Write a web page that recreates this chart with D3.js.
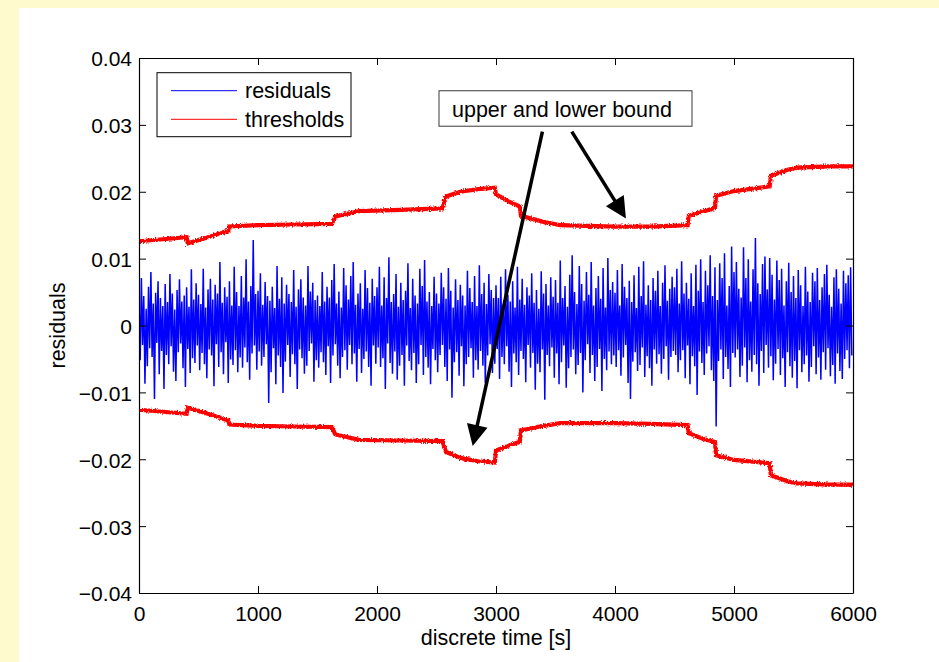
<!DOCTYPE html>
<html>
<head>
<meta charset="utf-8">
<script src="https://cdn.jsdelivr.net/npm/d3@7"></script>
<style>
  body { margin: 0; background: #fffacd; }
  svg { display: block; font-family: "Liberation Sans", Arial, Helvetica, sans-serif; }
</style>
</head>
<body>
<script>
// residual samples, in units of 1e-4, one sample every 10 s
var residuals = [
  38,-52,71,-29,44,-87,25,-61,58,-34,80,-47,33,-110,49,-26,66,-73,41,-38,29,-95,62,-44,35,-58,77,-31,48,-69,24,-83,53,-40,69,-27,36,-64,45,-92,57,-35,28,-71,84,-49,39,-56,63,-30,
  46,-67,32,-41,85,-58,27,-79,54,-36,70,-45,39,-91,61,-28,48,-62,95,-40,34,-73,57,-25,43,-86,66,-51,30,-59,88,-37,50,-70,29,-48,74,-63,42,-33,99,-55,36,-81,59,-42,128,-30,47,-66,
  52,-39,78,-60,31,-47,65,-28,44,-116,37,-70,58,-34,26,-88,89,-45,40,-62,72,-101,33,-54,61,-29,47,-77,35,-43,83,-58,28,-95,54,-36,69,-49,42,-72,30,-60,89,-38,51,-27,64,-84,38,-52,
  45,-63,29,-40,80,-55,36,-74,58,-31,42,-86,68,-45,92,-28,33,-60,51,-79,27,-47,86,-37,60,-66,39,-29,74,-58,95,-42,31,-84,48,-35,63,-71,25,-50,83,-39,56,-62,34,-90,70,-30,44,-57,
  57,-33,88,-62,30,-49,72,-95,41,-27,102,-56,35,-72,47,-39,77,-81,28,-60,64,-44,38,-90,52,-30,93,-53,26,-67,70,-41,45,-86,33,-58,85,-29,59,-74,98,-47,36,-63,50,-88,29,-35,73,-52,
  48,-70,33,-44,79,-29,57,-62,40,-83,86,-36,52,-108,27,-55,69,-40,38,-75,61,-31,45,-91,30,-58,82,-47,56,-34,35,-78,74,-52,29,-66,90,-38,47,-60,64,-86,32,-45,77,-28,53,-71,41,-57,
  60,-35,41,-80,73,-47,29,-58,84,-31,46,-69,36,-92,66,-42,27,-55,88,-74,39,-38,70,-50,31,-85,57,-29,45,-63,78,-41,34,-96,53,-57,25,-70,81,-36,48,-111,62,-44,30,-61,72,-33,43,-78,
  68,-42,34,-88,97,-55,41,-30,59,-93,28,-64,76,-47,105,-36,50,-73,32,-59,89,-41,62,-100,37,-52,80,-28,46,-71,95,-44,30,-83,56,-62,74,-35,40,-98,86,-50,27,-67,101,-39,53,-58,65,-45,
  49,-62,83,-37,30,-75,92,-48,58,-29,41,-86,67,-110,35,-54,75,-40,26,-68,88,-59,44,-33,96,-77,31,-46,60,-64,38,-90,71,-36,52,-57,82,-43,29,-72,64,-50,90,-31,37,-81,55,-47,73,-38,
  57,-44,85,-70,33,-52,96,-37,48,-79,64,-30,40,-88,78,-46,29,-61,91,-104,52,-39,99,-56,35,-74,82,-42,60,-31,105,-67,44,-83,87,-151,38,-53,93,-36,71,-80,108,-47,30,-65,59,-92,118,-41,
  80,-48,95,-36,55,-77,42,-60,117,-33,71,-85,99,-52,36,-69,84,-44,131,-58,63,-90,47,-38,92,-71,103,-29,54,-63,101,-46,76,-82,39,-57,97,-35,68,-74,85,-49,30,-92,66,-40,94,-61,50,-78,
  74,-53,41,-94,83,-37,60,-70,29,-58,88,-45,51,-84,35,-62,79,-31,66,-73,86,-48,38,-81,57,-40,77,-66,91,-34,46,-76,28,-59,72,-87,84,-42,55,-68,33,-80,82,-50,63,-37,75,-64,87,-45
];
var sampleStep = 10;

// threshold breakpoints: time [s] and bound value in units of 1e-3
var thresholdTimes = [0, 200, 400, 410, 600, 750, 760, 1000, 1300, 1620, 1650, 1850, 2200, 2550, 2580, 2700, 2850, 2990, 3000, 3100, 3200, 3210, 3400, 3540, 4000, 4300, 4610, 4620, 4750, 4840, 4850, 5000, 5300, 5310, 5450, 5530, 5800, 6000];
var upperBound = [12.6, 12.9, 13.2, 12.3, 13.3, 14.2, 14.8, 15.0, 15.1, 15.2, 16.3, 17.1, 17.3, 17.5, 19.3, 20.0, 20.4, 20.6, 19.6, 18.6, 17.8, 16.4, 15.5, 15.0, 14.8, 14.8, 15.0, 16.4, 17.1, 17.6, 19.4, 20.1, 20.8, 22.4, 23.3, 23.6, 23.8, 23.8];
var lowerBound = [-12.6, -12.9, -13.2, -12.3, -13.3, -14.2, -14.8, -15.0, -15.1, -15.2, -16.3, -17.1, -17.2, -17.3, -18.9, -19.8, -20.3, -20.5, -18.7, -18.0, -17.4, -15.7, -15.0, -14.6, -14.6, -14.7, -14.9, -16.1, -17.0, -17.4, -19.4, -20.1, -20.6, -22.4, -23.3, -23.6, -23.8, -23.8];

// tick values
var xTicks = [0, 1000, 2000, 3000, 4000, 5000, 6000];
var yTicks = [-0.04, -0.03, -0.02, -0.01, 0, 0.01, 0.02, 0.03, 0.04];

var legendLabels = ["residuals", "thresholds"];
var legendColors = ["#0000ff", "#ff0000"];

var svgWidth = 939;
var svgHeight = 662;

var margin = {
  top: 58,
  right: 86,
  bottom: 69,
  left: 139
};

var width = svgWidth - margin.left - margin.right;
var height = svgHeight - margin.top - margin.bottom;

var svg = d3.select("body")
  .append("svg")
  .attr("width", svgWidth)
  .attr("height", svgHeight);

// jagged edge for the noisy threshold traces
var defs = svg.append("defs");
var rough = defs.append("filter")
  .attr("id", "rough")
  .attr("x", "-2%").attr("y", "-20%")
  .attr("width", "104%").attr("height", "140%");
rough.append("feTurbulence")
  .attr("type", "fractalNoise")
  .attr("baseFrequency", "0.9 0.6")
  .attr("numOctaves", 2)
  .attr("seed", 3)
  .attr("result", "noise");
rough.append("feDisplacementMap")
  .attr("in", "SourceGraphic")
  .attr("in2", "noise")
  .attr("scale", 3.5)
  .attr("xChannelSelector", "R")
  .attr("yChannelSelector", "G");

// figure background: yellow page with white figure area
svg.append("rect")
  .attr("width", svgWidth)
  .attr("height", svgHeight)
  .attr("fill", "#fffacd");

svg.append("rect")
  .attr("x", 19)
  .attr("y", 8)
  .attr("width", svgWidth - 19)
  .attr("height", svgHeight - 8)
  .attr("fill", "#ffffff");

var chartGroup = svg.append("g")
  .attr("transform", `translate(${margin.left}, ${margin.top})`);

// scales
var xLinearScale = d3.scaleLinear()
  .domain([0, 6000])
  .range([0, width]);

var yLinearScale = d3.scaleLinear()
  .domain([-0.04, 0.04])
  .range([height, 0]);

chartGroup.append("clipPath")
  .attr("id", "plotClip")
  .append("rect")
  .attr("width", width)
  .attr("height", height);

var plotArea = chartGroup.append("g")
  .attr("clip-path", "url(#plotClip)");

// residuals line
var residualLine = d3.line()
  .x((d, i) => xLinearScale(i * sampleStep))
  .y(d => yLinearScale(d * 1e-4));

plotArea.append("path")
  .datum(residuals)
  .attr("d", residualLine)
  .attr("fill", "none")
  .attr("stroke", "#0000ff")
  .attr("stroke-width", 1.5)
  .attr("stroke-linejoin", "miter")
  .attr("stroke-miterlimit", 2);

// thresholds
var thresholdLine = d3.line()
  .x((d, i) => xLinearScale(thresholdTimes[i]))
  .y(d => yLinearScale(d * 1e-3));

[upperBound, lowerBound].forEach(function (bound) {
  plotArea.append("path")
    .datum(bound)
    .attr("d", thresholdLine)
    .attr("fill", "none")
    .attr("stroke", "#ff0000")
    .attr("stroke-width", 4.2)
    .attr("stroke-linejoin", "miter")
    .attr("filter", "url(#rough)");
});

// axes, MATLAB style: ticks inside on all four sides
function fmtY(d) {
  if (Math.abs(d) < 1e-9) return "0";
  return (d < 0 ? "\u2212" : "") + Math.abs(d).toFixed(2);
}

var bottomAxis = d3.axisBottom(xLinearScale)
  .tickValues(xTicks)
  .tickSizeInner(-7)
  .tickSizeOuter(0)
  .tickPadding(13)
  .tickFormat(d3.format("d"));

var leftAxis = d3.axisLeft(yLinearScale)
  .tickValues(yTicks)
  .tickSizeInner(-7)
  .tickSizeOuter(0)
  .tickPadding(7)
  .tickFormat(fmtY);

var topAxis = d3.axisTop(xLinearScale)
  .tickValues(xTicks)
  .tickSizeInner(-7)
  .tickSizeOuter(0)
  .tickFormat("");

var rightAxis = d3.axisRight(yLinearScale)
  .tickValues(yTicks)
  .tickSizeInner(-7)
  .tickSizeOuter(0)
  .tickFormat("");

var axisGroups = [
  chartGroup.append("g").attr("transform", `translate(0, ${height})`).call(bottomAxis),
  chartGroup.append("g").call(leftAxis),
  chartGroup.append("g").call(topAxis),
  chartGroup.append("g").attr("transform", `translate(${width}, 0)`).call(rightAxis)
];

axisGroups.forEach(function (g) {
  g.selectAll("path.domain").attr("stroke", "#000").attr("stroke-width", 1.2);
  g.selectAll(".tick line").attr("stroke", "#000").attr("stroke-width", 1);
  g.selectAll(".tick text")
    .attr("fill", "#000")
    .style("font-size", "21px")
    .style("font-family", "'Liberation Sans', Arial, Helvetica, sans-serif");
});

axisGroups[1].selectAll(".tick text").attr("dy", "0.38em");

// axis labels
chartGroup.append("text")
  .attr("x", width / 2)
  .attr("y", height + 52)
  .attr("text-anchor", "middle")
  .style("font-size", "21.5px")
  .text("discrete time [s]");

chartGroup.append("text")
  .attr("transform", "rotate(-90)")
  .attr("x", -height / 2)
  .attr("y", -74)
  .attr("text-anchor", "middle")
  .style("font-size", "21.5px")
  .text("residuals");

// legend
var legend = chartGroup.append("g")
  .attr("transform", "translate(18, 14.7)");

legend.append("rect")
  .attr("width", 194)
  .attr("height", 64)
  .attr("fill", "#fff")
  .attr("stroke", "#000")
  .attr("stroke-width", 1);

legendLabels.forEach(function (label, i) {
  legend.append("line")
    .attr("x1", 14)
    .attr("x2", 80)
    .attr("y1", 18 + i * 28.6)
    .attr("y2", 18 + i * 28.6)
    .attr("stroke", legendColors[i])
    .attr("stroke-width", 1);
  legend.append("text")
    .attr("x", 88)
    .attr("y", 25.6 + i * 28.6)
    .style("font-size", "21.5px")
    .text(label);
});

// annotation box and arrows (placed in data coordinates)
var noteBox = { x0: 2521, x1: 4647, y0: 0.0298, y1: 0.0351 };
var noteText = { x: 2630, y: 0.03122, label: "upper and lower bound" };
var arrows = [
  { from: [3390, 0.0290], to: [2804, -0.0180] },
  { from: [3637, 0.0290], to: [4092, 0.0160] }
];

chartGroup.append("rect")
  .attr("x", xLinearScale(noteBox.x0))
  .attr("y", yLinearScale(noteBox.y1))
  .attr("width", xLinearScale(noteBox.x1) - xLinearScale(noteBox.x0))
  .attr("height", yLinearScale(noteBox.y0) - yLinearScale(noteBox.y1))
  .attr("fill", "#fff")
  .attr("stroke", "#3a3a3a")
  .attr("stroke-width", 1);

chartGroup.append("text")
  .attr("x", xLinearScale(noteText.x))
  .attr("y", yLinearScale(noteText.y))
  .style("font-size", "21.5px")
  .text(noteText.label);

var headLength = 21;
var headHalf = 10.5;

arrows.forEach(function (a) {
  var x1 = xLinearScale(a.from[0]), y1 = yLinearScale(a.from[1]);
  var x2 = xLinearScale(a.to[0]), y2 = yLinearScale(a.to[1]);
  var len = Math.hypot(x2 - x1, y2 - y1);
  var ux = (x2 - x1) / len, uy = (y2 - y1) / len;
  var bx = x2 - ux * headLength, by = y2 - uy * headLength;

  chartGroup.append("line")
    .attr("x1", x1)
    .attr("y1", y1)
    .attr("x2", bx + ux * 2)
    .attr("y2", by + uy * 2)
    .attr("stroke", "#000")
    .attr("stroke-width", 3.5);

  chartGroup.append("polygon")
    .attr("points", [
      [x2, y2],
      [bx - uy * headHalf, by + ux * headHalf],
      [bx + uy * headHalf, by - ux * headHalf]
    ].map(p => p.join(",")).join(" "))
    .attr("fill", "#000");
});
</script>
</body>
</html>
